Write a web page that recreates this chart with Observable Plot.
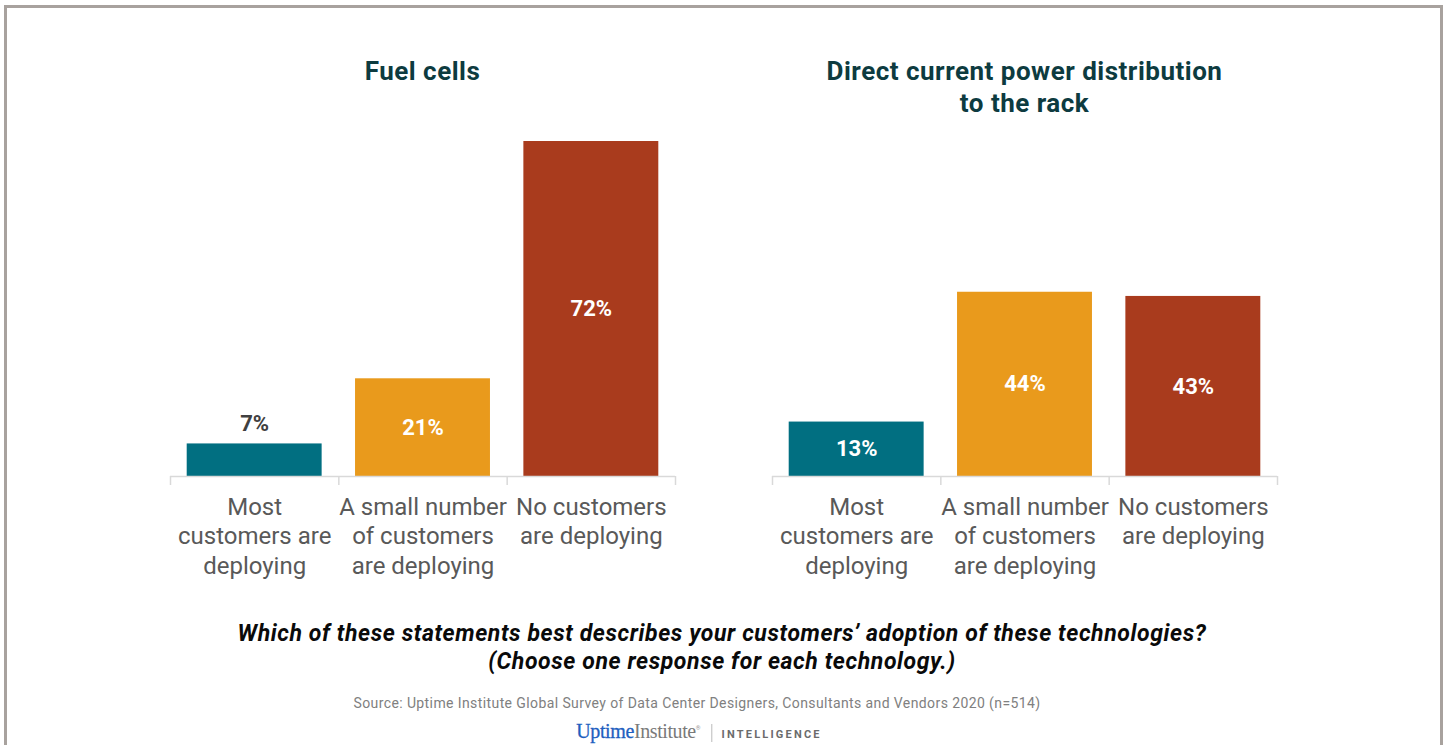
<!DOCTYPE html>
<html>
<head>
<meta charset="utf-8">
<script src="https://cdn.jsdelivr.net/npm/d3@7"></script>
<script src="https://cdn.jsdelivr.net/npm/@observablehq/plot@0.6"></script>
<style>
  html, body { margin: 0; padding: 0; background: #fff; }
  body { width: 1447px; height: 745px; overflow: hidden; position: relative; font-family: Roboto, "Noto Sans", sans-serif; }
  #frame { position: absolute; left: 4px; top: 5px; width: 1433px; height: 800px; border: 3px solid #a8a29e; border-bottom: none; }
  .abs { position: absolute; white-space: nowrap; transform: translateX(-50%); text-align: center; }
  .title { font-weight: 700; font-size: 26px; letter-spacing: 0.5px; line-height: 32px; color: #0d3b40; }
  .question { font-weight: 700; font-style: italic; font-size: 23px; letter-spacing: 0.6px; line-height: 28px; color: #0a0a0a; }
  .source { font-size: 14px; letter-spacing: 0.4px; line-height: 16px; color: #808080; }
  .logo { font-size: 20px; line-height: 20px; }
  .plot { position: absolute; top: 100px; }
</style>
</head>
<body>
<div id="frame"></div>
<div id="titles"></div>
<div id="p0" class="plot" style="left:0px"></div>
<div id="p1" class="plot" style="left:602px"></div>
<div class="abs question" style="left:722px; top:620px">Which of these statements best describes your customers’ adoption of these technologies?<br>(Choose one response for each technology.)</div>
<div class="abs source" style="left:697px; top:695px">Source: Uptime Institute Global Survey of Data Center Designers, Consultants and Vendors 2020 (n=514)</div>
<div class="abs logo" style="left:699px; top:718px">
  <span style="font-family:'Liberation Serif', serif; color:#1f5fbf; letter-spacing:-0.4px; -webkit-text-stroke:0.3px #1f5fbf">Uptime</span><span style="font-family:'Liberation Serif', serif; color:#7a7a7a; letter-spacing:-0.4px">Institute</span><sup style="font-size:6px;color:#999">®</sup>
  <span style="display:inline-block; width:1px; height:18px; background:#bbb; vertical-align:-4px; margin:0 9px 0 6px"></span><span style="font-family:Roboto, sans-serif; font-weight:700; font-size:11px; letter-spacing:2.2px; color:#6b6b6b">INTELLIGENCE</span>
</div>
<script>
// ---- data ----
const categories = ["Most customers are deploying", "A small number of customers are deploying", "No customers are deploying"];
const categoryLabels = ["Most\ncustomers are\ndeploying", "A small number\nof customers\nare deploying", "No customers\nare deploying"];
const panelTitles = ["Fuel cells", "Direct current power distribution\nto the rack"];
const fuelCells = [7, 21, 72];
const dcPower = [13, 44, 43];
const colors = ["#016f81", "#e99a1c", "#a93b1d"];

const panels = [
  {title: panelTitles[0], values: fuelCells, yMax: 72, center: 422.5},
  {title: panelTitles[1], values: dcPower, yMax: 80, center: 1024.5}
];

const titlesDiv = document.getElementById("titles");
panels.forEach((p, k) => {
  const t = document.createElement("div");
  t.className = "abs title";
  t.style.left = p.center + "px";
  t.style.top = "55px";
  t.innerHTML = p.title.replace("\n", "<br>");
  titlesDiv.appendChild(t);

  const data = categories.map((c, i) => ({i, category: c, label: categoryLabels[i], value: p.values[i]}));
  const chart = Plot.plot({
    width: 700,
    height: 486,
    marginLeft: 170,
    marginRight: 25,
    marginTop: 41,
    marginBottom: 110,
    style: {fontFamily: "Roboto, sans-serif", background: "transparent"},
    x: {domain: [0, categories.length], axis: null},
    y: {domain: [0, p.yMax], axis: null},
    color: {domain: categories, range: colors},
    marks: [
      Plot.rectY(data, {x1: "i", x2: d => d.i + 1, y: "value", fill: "category", insetLeft: 16.7, insetRight: 16.7}),
      Plot.ruleY([0], {stroke: "#d9d9d9", strokeWidth: 1.5}),
      Plot.axisX({ticks: d3.range(categories.length + 1), tickSize: 9, tickFormat: () => "", label: null, stroke: "#d9d9d9", strokeWidth: 1.5}),
      Plot.text(data.filter(d => d.value >= 10), {x: d => d.i + 0.5, y: d => d.value / 2, text: d => d.value + "%", fill: "white", fontWeight: 700, fontSize: 22}),
      Plot.text(data.filter(d => d.value < 10), {x: d => d.i + 0.5, y: "value", dy: -20, text: d => d.value + "%", fill: "#404040", fontWeight: 700, fontSize: 22}),
      Plot.text(data, {x: d => d.i + 0.5, frameAnchor: "bottom", lineAnchor: "top", dy: 17.3, text: "label", fill: "#595959", fontSize: 24, lineHeight: 1.229})
    ]
  });
  document.getElementById("p" + k).appendChild(chart);
});
</script>
</body>
</html>
